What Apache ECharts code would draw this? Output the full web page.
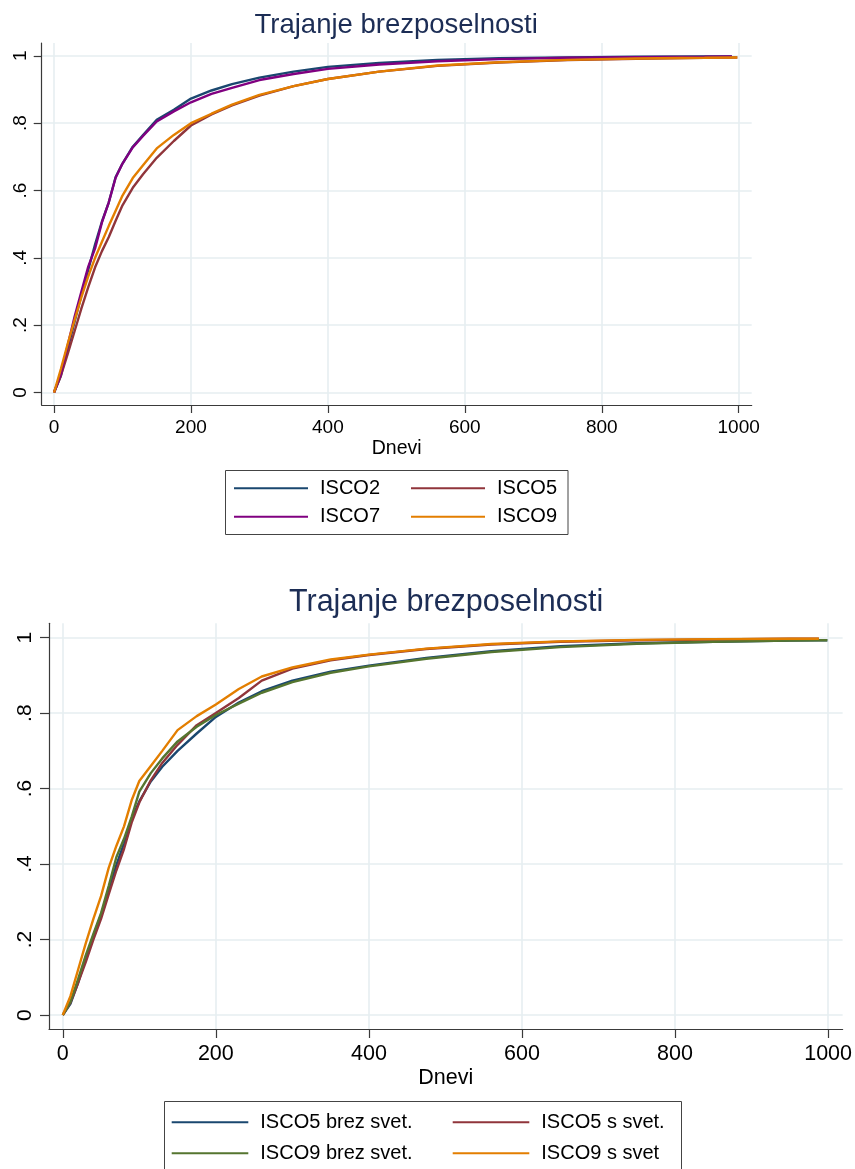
<!DOCTYPE html>
<html>
<head>
<meta charset="utf-8">
<script src="https://cdn.jsdelivr.net/npm/echarts@6/dist/echarts.min.js"></script>
<style>
html,body{margin:0;padding:0;background:#fff;}
#c{width:855px;height:1169px;}
</style>
</head>
<body>
<div id="c"></div>
<script>
// ---------- data ----------
const titleText = 'Trajanje brezposelnosti';
const xAxisName = 'Dnevi';
const xTicks = [0, 200, 400, 600, 800, 1000];
const yTicks = [0, 0.2, 0.4, 0.6, 0.8, 1];
const yTickLabels = ['0', '.2', '.4', '.6', '.8', '1'];

// top panel
const topNames = ['ISCO2', 'ISCO5', 'ISCO7', 'ISCO9'];
const topDays = [0,10,20,30,40,50,60,70,80,90,100,115,130,150,175,200,230,260,300,350,400,475,560,650,750,850,950,990,998];
const isco2 = [0,0.05,0.13,0.21,0.29,0.365,0.44,0.508,0.565,0.64,0.68,0.73,0.765,0.81,0.84,0.873,0.897,0.916,0.935,0.953,0.967,0.979,0.988,0.993,0.995,0.997,0.998,0.998,null];
const isco5 = [0,0.05,0.115,0.182,0.25,0.313,0.372,0.42,0.462,0.51,0.556,0.608,0.648,0.697,0.747,0.793,0.826,0.853,0.882,0.91,0.931,0.953,0.97,0.98,0.987,0.991,0.994,0.995,0.995];
const isco7 = [0,0.055,0.14,0.225,0.30,0.374,0.428,0.505,0.565,0.638,0.68,0.728,0.762,0.805,0.835,0.862,0.887,0.905,0.928,0.946,0.961,0.974,0.984,0.99,0.994,0.996,0.997,0.998,null];
const isco9 = [0,0.07,0.145,0.215,0.283,0.345,0.40,0.448,0.495,0.54,0.585,0.637,0.675,0.725,0.765,0.80,0.828,0.855,0.884,0.91,0.931,0.953,0.971,0.981,0.988,0.992,0.994,0.995,0.995];

// bottom panel
const botNames = ['ISCO5 brez svet.', 'ISCO5 s svet.', 'ISCO9 brez svet.', 'ISCO9 s svet'];
const botDays = [0,10,20,30,40,50,60,70,80,90,100,115,130,150,175,200,230,260,300,350,400,475,560,650,750,850,950,988,999];
const isco5Brez = [0,0.03,0.085,0.15,0.21,0.265,0.33,0.397,0.455,0.52,0.566,0.619,0.658,0.70,0.746,0.79,0.828,0.858,0.886,0.91,0.926,0.946,0.964,0.977,0.985,0.989,0.992,0.993,0.993];
const isco5S = [0,0.033,0.085,0.14,0.20,0.255,0.32,0.383,0.44,0.51,0.563,0.622,0.668,0.716,0.768,0.80,0.84,0.886,0.918,0.94,0.954,0.97,0.982,0.989,0.993,0.995,0.997,0.997,null];
const isco9Brez = [0,0.035,0.095,0.158,0.215,0.27,0.342,0.418,0.467,0.525,0.592,0.641,0.68,0.725,0.764,0.795,0.825,0.854,0.882,0.907,0.924,0.944,0.962,0.975,0.984,0.989,0.992,0.993,0.993];
const isco9S = [0,0.05,0.12,0.19,0.255,0.315,0.39,0.448,0.50,0.569,0.62,0.66,0.70,0.755,0.792,0.823,0.864,0.897,0.921,0.942,0.955,0.971,0.983,0.99,0.994,0.996,0.997,0.997,null];

// ---------- styling ----------
const FONT = '"Liberation Sans", Arial, Helvetica, sans-serif';
const C_NAVY = '#1a476f', C_MAROON = '#90353b', C_PURPLE = '#800080', C_ORANGE = '#e37e00', C_GREEN = '#55752f';
const GRIDC = '#e6eef1', AXISC = '#3a3a3a';

function pairs(days, vals) {
  const out = [];
  for (let i = 0; i < days.length; i++) if (vals[i] !== null) out.push([days[i], vals[i]]);
  return out;
}

function xAxisCfg(gi, fs, nameFs, nameGap, margin, tickLen) {
  return {
    type: 'value', gridIndex: gi, min: -18, max: 1019,
    name: xAxisName, nameLocation: 'middle', nameGap: nameGap,
    nameTextStyle: { fontFamily: FONT, fontSize: nameFs, color: '#000' },
    axisLine: { show: true, onZero: false, lineStyle: { color: AXISC, width: 1.2 } },
    axisTick: { show: true, length: tickLen, customValues: xTicks, lineStyle: { color: AXISC, width: 1.2 } },
    axisLabel: { customValues: xTicks, fontFamily: FONT, fontSize: fs, color: '#000', margin: margin, formatter: v => String(v) },
    splitLine: { show: true, lineStyle: { color: GRIDC, width: 1.6 } }
  };
}
function yAxisCfg(gi, fs, margin, tickLen) {
  return {
    type: 'value', gridIndex: gi, min: -0.037, max: 1.038,
    axisLine: { show: true, onZero: false, lineStyle: { color: AXISC, width: 1.2 } },
    axisTick: { show: true, length: tickLen, customValues: yTicks, lineStyle: { color: AXISC, width: 1.2 } },
    axisLabel: {
      customValues: yTicks, rotate: 90, fontFamily: FONT, fontSize: fs, color: '#000', margin: margin,
      formatter: v => { const i = yTicks.findIndex(t => Math.abs(t - v) < 1e-6); return i >= 0 ? yTickLabels[i] : ''; }
    },
    splitLine: { show: true, lineStyle: { color: GRIDC, width: 1.6 } }
  };
}
function line(name, days, vals, color, gi) {
  return {
    type: 'line', name: name, xAxisIndex: gi, yAxisIndex: gi,
    data: pairs(days, vals), showSymbol: false, symbol: 'none',
    lineStyle: { color: color, width: 2.4 }, itemStyle: { color: color },
    animation: false, silent: true
  };
}
function legendCfg(names, left, top, iw, gap, fs) {
  return {
    data: names, orient: 'vertical', left: left, top: top, padding: 0,
    itemWidth: iw, itemHeight: 2, itemGap: gap, icon: 'rect', selectedMode: false,
    textStyle: { fontFamily: FONT, fontSize: fs, lineHeight: 20, color: '#000', padding: [0, 0, 0, 7] }
  };
}

const chart = echarts.init(document.getElementById('c'), null, { renderer: 'canvas' });
chart.setOption({
  backgroundColor: '#fff',
  animation: false,
  title: [
    { text: titleText, left: 254.5, top: 11, padding: 0, textStyle: { fontFamily: FONT, fontSize: 27.5, fontWeight: 'normal', color: '#1c2d55' } },
    { text: titleText, left: 289, top: 587.5, padding: 0, textStyle: { fontFamily: FONT, fontSize: 30.5, fontWeight: 'normal', color: '#1c2d55' } }
  ],
  grid: [
    { left: 41.7, right: 855 - 751.7, top: 43, height: 362, containLabel: false },
    { left: 49, right: 855 - 844, top: 623.3, height: 405.7, containLabel: false }
  ],
  xAxis: [ xAxisCfg(0, 19, 19.5, 34, 13, 8), xAxisCfg(1, 21.5, 21.5, 38, 14, 9) ],
  yAxis: [ yAxisCfg(0, 19, 11, 8), yAxisCfg(1, 21, 13, 9) ],
  legend: [
    legendCfg([topNames[0], topNames[2]], 234, 478.3, 74, 8.4, 20),
    legendCfg([topNames[1], topNames[3]], 411, 478.3, 74, 8.4, 20),
    legendCfg([botNames[0], botNames[2]], 171.7, 1112.3, 76.6, 11, 20),
    legendCfg([botNames[1], botNames[3]], 452.7, 1112.3, 76.6, 11, 20)
  ],
  graphic: [
    { type: 'rect', shape: { x: 225.5, y: 470.5, width: 342.5, height: 64 }, style: { fill: 'none', stroke: '#444', lineWidth: 1 }, silent: true },
    { type: 'rect', shape: { x: 164.5, y: 1101.5, width: 517, height: 80 }, style: { fill: 'none', stroke: '#444', lineWidth: 1 }, silent: true }
  ],
  series: [
    line(topNames[0], topDays, isco2, C_NAVY, 0),
    line(topNames[1], topDays, isco5, C_MAROON, 0),
    line(topNames[2], topDays, isco7, C_PURPLE, 0),
    line(topNames[3], topDays, isco9, C_ORANGE, 0),
    line(botNames[0], botDays, isco5Brez, C_NAVY, 1),
    line(botNames[1], botDays, isco5S, C_MAROON, 1),
    line(botNames[2], botDays, isco9Brez, C_GREEN, 1),
    line(botNames[3], botDays, isco9S, C_ORANGE, 1)
  ]
});
</script>
</body>
</html>
